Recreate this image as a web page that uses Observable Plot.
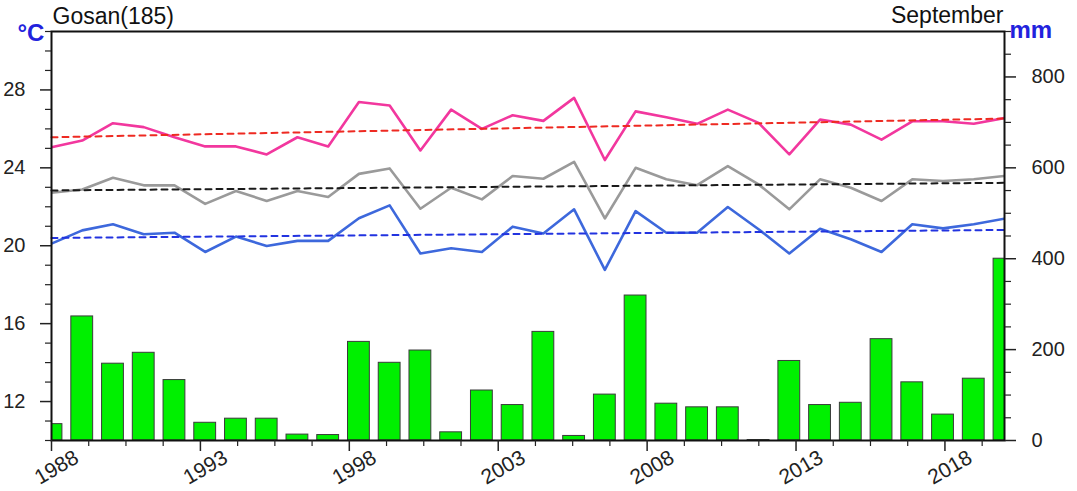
<!DOCTYPE html>
<html>
<head>
<meta charset="utf-8">
<script src="https://cdn.jsdelivr.net/npm/d3@7"></script>
<script src="https://cdn.jsdelivr.net/npm/@observablehq/plot@0.6"></script>
<style>
  html, body { margin: 0; padding: 0; background: #fff; }
  #chart { width: 1077px; height: 491px; }
</style>
</head>
<body>
<div id="chart"></div>
<script>
// ---- data ----
const years = [1988,1989,1990,1991,1992,1993,1994,1995,1996,1997,1998,1999,2000,2001,2002,2003,
               2004,2005,2006,2007,2008,2009,2010,2011,2012,2013,2014,2015,2016,2017,2018,2019];
const tMax  = [25.06,25.40,26.29,26.09,25.57,25.10,25.10,24.69,25.57,25.10,27.38,27.20,24.89,26.99,26.00,26.70,
               26.41,27.59,24.40,26.90,26.60,26.26,26.99,26.31,24.69,26.48,26.22,25.45,26.39,26.39,26.26,26.56];
const tMean = [22.72,22.89,23.49,23.10,23.10,22.15,22.81,22.30,22.81,22.50,23.69,23.97,21.90,22.98,22.38,23.58,
               23.44,24.31,21.40,24.00,23.41,23.11,24.09,23.15,21.87,23.41,22.98,22.30,23.41,23.32,23.41,23.58];
const tMin  = [20.11,20.79,21.10,20.59,20.67,19.68,20.47,19.99,20.25,20.25,21.41,22.07,19.60,19.87,19.68,20.98,
               20.63,21.87,18.76,21.78,20.67,20.67,21.99,20.85,19.60,20.87,20.33,19.68,21.10,20.89,21.10,21.39];
const precip = [36,273,169,193,133,39,48,48,13,12,217,171,198,18,110,78,
                239,10,101,319,81,73,73,1,175,78,83,223,128,57,136,400];
// trend lines (end points)
const trendYears = [1988, 2019];
const trendMax  = [25.57, 26.53];
const trendMean = [22.84, 23.23];
const trendMin  = [20.40, 20.81];
// axis ticks
const xTickLabels = [1988, 1993, 1998, 2003, 2008, 2013, 2018];
const xMinorLabels = [1989.25,1990.5,1991.75,1994.25,1995.5,1996.75,1999.25,2000.5,2001.75,2004.25,2005.5,2006.75,
                      2009.25,2010.5,2011.75,2014.25,2015.5,2016.75,2019.25];
const leftTicks = [12, 16, 20, 24, 28];
const leftMinor = [10,11,13,14,15,17,18,19,21,22,23,25,26,27,29,30,31];
const rightTicks = [0, 200, 400, 600, 800];
const rightMinor = [50,100,150,250,300,350,450,500,550,650,700,750,850,900];

// ---- scales setup ----
const tDomain = [10, 31];
const mmDomain = [0, 900];
const toC = mm => tDomain[0] + (mm - mmDomain[0]) * (tDomain[1] - tDomain[0]) / (mmDomain[1] - mmDomain[0]);
const toMM = c => (c - tDomain[0]) * (mmDomain[1] - mmDomain[0]) / (tDomain[1] - tDomain[0]);
// tick labels span 1988–2020 across the frame while data span 1988–2019
const labelToX = l => 1988 + (l - 1988) * 31 / 32;
const xToLabel = x => Math.round(1988 + (x - 1988) * 32 / 31);

const rows = years.map((y, i) => ({year: y, tmax: tMax[i], tmean: tMean[i], tmin: tMin[i], mm: precip[i]}));
const trend = trendYears.map((y, i) => ({year: y, max: trendMax[i], mean: trendMean[i], min: trendMin[i]}));
const halfBar = 0.355;
const FONT = "'Liberation Sans', Arial, Helvetica, sans-serif";

const chart = Plot.plot({
  width: 1077,
  height: 491,
  marginLeft: 51,
  marginRight: 73,
  marginTop: 31,
  marginBottom: 51,
  style: {fontFamily: FONT, fontSize: "20px", color: "#222", background: "#fff", overflow: "visible"},
  x: {domain: [1988, 2019], label: null},
  y: {domain: tDomain, label: null},
  marks: [
    // precipitation bars (right axis, mm)
    Plot.rect(rows, {
      x1: d => d.year - halfBar, x2: d => d.year + halfBar,
      y1: toC(0), y2: d => toC(d.mm),
      fill: "#00f000", stroke: "#3a3a3a", strokeWidth: 1, clip: true
    }),
    // temperature lines
    Plot.line(rows, {x: "year", y: "tmax", stroke: "#f2379e", strokeWidth: 2.6, clip: true}),
    Plot.line(rows, {x: "year", y: "tmean", stroke: "#9a9a9a", strokeWidth: 2.6, clip: true}),
    Plot.line(rows, {x: "year", y: "tmin", stroke: "#3d68dc", strokeWidth: 2.6, clip: true}),
    // trend lines
    Plot.line(trend, {x: "year", y: "max", stroke: "#ee2a22", strokeWidth: 2, strokeDasharray: "6,5"}),
    Plot.line(trend, {x: "year", y: "mean", stroke: "#1a1a1a", strokeWidth: 2, strokeDasharray: "6,5"}),
    Plot.line(trend, {x: "year", y: "min", stroke: "#2233e0", strokeWidth: 2, strokeDasharray: "6,5"}),
    // frame
    Plot.frame({stroke: "#111", strokeWidth: 2}),
    // left axis (°C)
    Plot.axisY(leftTicks, {anchor: "left", tickSize: 11, tickPadding: 15, strokeWidth: 1.5}),
    Plot.axisY(leftMinor, {anchor: "left", tickSize: 6, tickFormat: () => "", strokeWidth: 1.2}),
    // right axis (mm)
    Plot.axisY(rightTicks.map(toC), {anchor: "right", tickSize: 11, tickPadding: 16, strokeWidth: 1.5,
      tickFormat: d => String(Math.round(toMM(d)))}),
    Plot.axisY(rightMinor.map(toC), {anchor: "right", tickSize: 6, tickFormat: () => "", strokeWidth: 1.2}),
    // bottom axis
    Plot.axisX(xTickLabels.map(labelToX), {anchor: "bottom", tickSize: 11, tickFormat: () => "", strokeWidth: 1.5}),
    Plot.axisX(xMinorLabels.map(labelToX), {anchor: "bottom", tickSize: 6, tickFormat: () => "", strokeWidth: 1.2}),
    Plot.text(xTickLabels.map(labelToX), {
      x: d => d, frameAnchor: "bottom", text: d => String(xToLabel(d)),
      rotate: -30, textAnchor: "middle", lineAnchor: "middle", dy: 27, dx: 5, fontSize: 21, fill: "#222"
    }),
    // titles
    Plot.text(["Gosan(185)"], {frameAnchor: "top-left", textAnchor: "start", lineAnchor: "bottom",
      dx: 1, dy: -8, fontSize: 23, fill: "#111"}),
    Plot.text(["September"], {frameAnchor: "top-right", textAnchor: "end", lineAnchor: "bottom",
      dx: -1, dy: -9, fontSize: 23, fill: "#111"}),
    Plot.text(["°C"], {frameAnchor: "top-left", textAnchor: "start", lineAnchor: "bottom",
      dx: -34, dy: 9, fontSize: 24, fontWeight: "bold", fill: "#2222dd"}),
    Plot.text(["mm"], {frameAnchor: "top-right", textAnchor: "start", lineAnchor: "bottom",
      dx: 5, dy: 6, fontSize: 24, fontWeight: "bold", fill: "#2222dd"})
  ]
});
document.getElementById("chart").appendChild(chart);
</script>
</body>
</html>
